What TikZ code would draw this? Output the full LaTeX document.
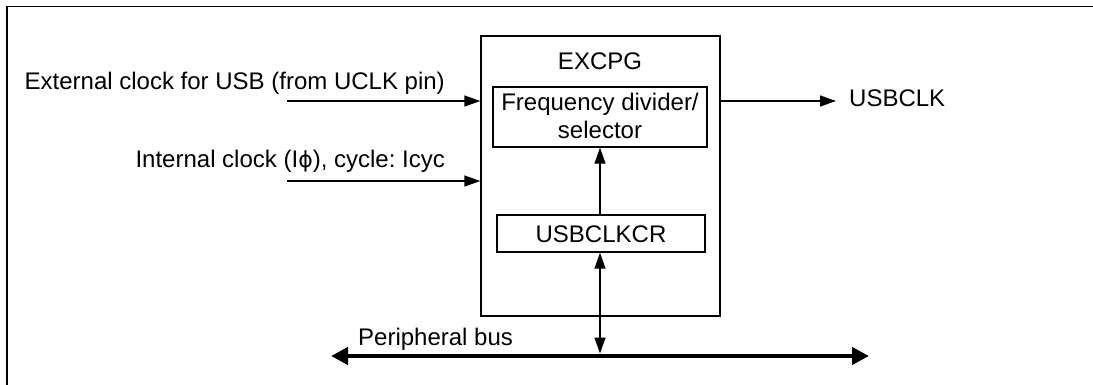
\documentclass[tikz,border=0pt]{standalone}
\usepackage{fontspec}
\setmainfont{Liberation Sans}
\newfontfamily\symfont{DejaVu Sans}
\usetikzlibrary{arrows.meta}
\frenchspacing
\begin{document}
\begin{tikzpicture}[x=1pt,y=-1pt,
  txt/.style={inner sep=0pt,font=\fontsize{24}{28}\selectfont},
  box/.style={draw,line width=1.4pt,inner sep=0pt},
  sig/.style={line width=1.4pt,-{Triangle[length=16pt,width=11pt]}},
  bus/.style={line width=4.5pt,{Triangle[length=17pt,width=17pt]}-{Triangle[length=17pt,width=17pt]}}]
\useasboundingbox (0,0) rectangle (1093,385);
% frame (top and left only)
\coordinate (ftr) at (1093,6.5);
\coordinate (ftl) at (7,6.5);
\coordinate (fbl) at (7,385);
\draw[line width=1.5pt] (ftr) -- (ftl) -- (fbl);
% blocks
\node[box,minimum width=239pt,minimum height=280pt] (excpg) at (600.5,176) {};
\node[txt,anchor=base] (excpgl) at (600,69.3) {EXCPG};
\node[box,minimum width=214pt,minimum height=60pt] (freq) at (600,117) {};
\node[txt,anchor=base] (freq1) at (600,111) {Frequency divider/};
\node[txt,anchor=base] (freq2) at (600,139) {selector};
\node[box,minimum width=208pt,minimum height=37pt] (ucr) at (601,233.5) {};
\node[txt,anchor=base] (ucrl) at (601,242.3) {USBCLKCR};
% inputs
\coordinate (in1) at (287,101);
\coordinate (in2) at (287,181);
\node[txt,anchor=base east] (ext) at (445,89.3) {External clock for USB (from UCLK pin)};
\node[txt,anchor=base east] (int) at (445,167.7) {Internal clock (I{\symfont\fontsize{22}{26}\selectfont ϕ}), cycle: Icyc};
\draw[sig] (in1) -- (in1 -| excpg.west);
\draw[sig] (in2) -- (in2 -| excpg.west);
% output
\node[txt,anchor=base west] (usbclk) at (849,106.7) {USBCLK};
\coordinate (outend) at (836,101);
\draw[sig] (outend -| excpg.east) -- (outend);
% internal arrow
\draw[sig] (ucr.north -| freq.south) -- (freq.south);
% bus
\coordinate (busl) at (331,356);
\coordinate (busr) at (869,356);
\coordinate (busm) at (600,353.5);
\draw[bus] (busl) -- (busr);
\node[txt,anchor=base west] (buslabel) at (358,345.7) {Peripheral bus};
\draw[line width=1.4pt,{Triangle[length=16pt,width=11pt]}-{Triangle[length=16pt,width=11pt]}] (ucr.south -| busm) -- (busm);
\end{tikzpicture}
\end{document}
